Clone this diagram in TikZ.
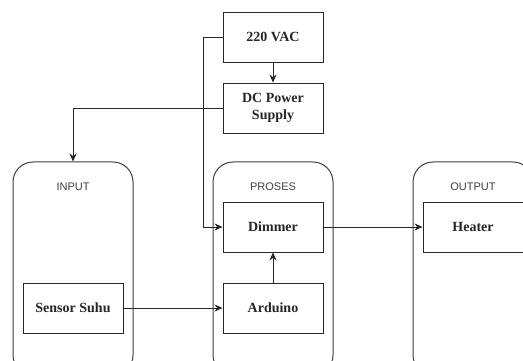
\documentclass[tikz,border=0pt]{standalone}
\usepackage{fontspec}
\setmainfont{Liberation Serif}
\setsansfont{Liberation Sans}
\usetikzlibrary{arrows.meta}
\begin{document}
\begin{tikzpicture}[x=1pt,y=-1pt,
  blk/.style={draw=black!85,line width=0.9pt,minimum width=100pt,minimum height=50pt,inner sep=2pt,
    align=center,font=\fontsize{14}{17}\selectfont\bfseries,text=black!85},
  grp/.style={draw=black!75,line width=1pt,rounded corners=20pt,minimum width=120pt,minimum height=213pt},
  grplbl/.style={font=\sffamily\fontsize{11}{13}\selectfont,text=black!75},
  conn/.style={draw=black!85,line width=0.9pt,-{Stealth[length=8pt,width=7pt]}},
  wire/.style={draw=black!85,line width=0.9pt}]
\useasboundingbox (0,0) rectangle (523,361);
\clip (0,0) rectangle (523,361);
\fill[white] (0,0) rectangle (523,361);
% containers
\node[grp] (inbox) at (73,268.5) {};
\node[grp] (probox) at (273,268.5) {};
\node[grp] (outbox) at (473,268.5) {};
\node[grplbl] (inlbl) at (73,187) {INPUT};
\node[grplbl] (prolbl) at (273,187) {PROSES};
\node[grplbl] (outlbl) at (473,187) {OUTPUT};
% blocks
\node[blk] (vac) at (273,37) {220 VAC};
\node[blk] (dc) at (273,108) {DC Power\\Supply};
\node[blk] (sensor) at (73,308) {Sensor Suhu};
\node[blk] (dimmer) at (273,227) {Dimmer};
\node[blk] (arduino) at (273,308) {Arduino};
\node[blk] (heater) at (473,227) {Heater};
% connectors
\coordinate (vk) at (203,37);
\coordinate (dk) at (73,108);
\draw[conn] (vac.south) -- (dc.north);
\draw[conn] (vac.west) -- (vk) |- (dimmer.west);
\draw[conn] (dc.west) -- (dk) -- (inbox.north);
\draw[conn] (sensor.east) -- (arduino.west);
\draw[conn] (arduino.north) -- (dimmer.south);
\draw[conn] (dimmer.east) -- (heater.west);
\end{tikzpicture}
\end{document}
